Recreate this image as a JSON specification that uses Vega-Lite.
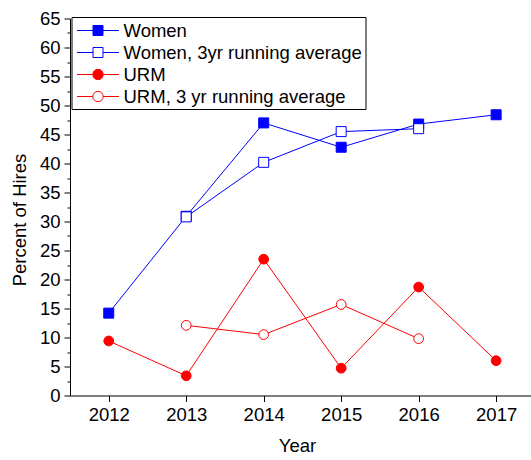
{
  "$schema": "https://vega.github.io/schema/vega-lite/v6.json",
  "width": 461,
  "height": 377,
  "autosize": {"type": "none"},
  "padding": {"left": 70, "top": 18.5, "right": 0, "bottom": 64.5},
  "background": "white",
  "config": {
    "view": {"stroke": null},
    "font": "Liberation Sans",
    "axis": {
      "labelFont": "Liberation Sans",
      "titleFont": "Liberation Sans",
      "labelFontSize": 18.5,
      "titleFontSize": 18.5,
      "titleFontWeight": "normal",
      "labelColor": "black",
      "titleColor": "black",
      "domainColor": "black",
      "tickColor": "black",
      "domainWidth": 1,
      "tickWidth": 1,
      "grid": false
    },
    "legend": {
      "orient": "none",
      "legendX": 1.5,
      "legendY": -1.5,
      "strokeColor": "black",
      "fillColor": "white",
      "padding": 3,
      "symbolSize": 400,
      "symbolStrokeWidth": 1,
      "symbolOffset": 13,
      "labelOffset": 15,
      "rowPadding": 2,
      "symbolOpacity": 1,
      "labelFont": "Liberation Sans",
      "labelFontSize": 18.5,
      "labelColor": "black",
      "labelLimit": 400
    }
  },
  "data": {
    "values": [
      {"year": 2012, "value": 14.2, "series": "Women"},
      {"year": 2013, "value": 30.9, "series": "Women"},
      {"year": 2014, "value": 47.0, "series": "Women"},
      {"year": 2015, "value": 42.8, "series": "Women"},
      {"year": 2016, "value": 46.8, "series": "Women"},
      {"year": 2017, "value": 48.4, "series": "Women"},
      {"year": 2013, "value": 30.8, "series": "Women, 3yr running average"},
      {"year": 2014, "value": 40.2, "series": "Women, 3yr running average"},
      {"year": 2015, "value": 45.5, "series": "Women, 3yr running average"},
      {"year": 2016, "value": 46.0, "series": "Women, 3yr running average"},
      {"year": 2012, "value": 9.4, "series": "URM"},
      {"year": 2013, "value": 3.4, "series": "URM"},
      {"year": 2014, "value": 23.5, "series": "URM"},
      {"year": 2015, "value": 4.7, "series": "URM"},
      {"year": 2016, "value": 18.7, "series": "URM"},
      {"year": 2017, "value": 6.0, "series": "URM"},
      {"year": 2013, "value": 12.1, "series": "URM, 3 yr running average"},
      {"year": 2014, "value": 10.5, "series": "URM, 3 yr running average"},
      {"year": 2015, "value": 15.7, "series": "URM, 3 yr running average"},
      {"year": 2016, "value": 9.8, "series": "URM, 3 yr running average"}
    ]
  },
  "resolve": {"axis": {"y": "independent"}},
  "layer": [
    {
      "mark": {"type": "line", "strokeWidth": 1},
      "encoding": {
        "x": {
          "field": "year", "type": "quantitative",
          "scale": {"domain": [2011.5, 2017.45], "nice": false, "zero": false},
          "axis": {"values": [2012, 2013, 2014, 2015, 2016, 2017], "format": "d", "tickSize": 6, "labelPadding": 4, "title": "Year", "titlePadding": 12, "titleX": 227, "labelFlush": false}
        },
        "y": {
          "field": "value", "type": "quantitative",
          "scale": {"domain": [0, 65], "nice": false},
          "axis": {"orient": "left", "values": [0, 5, 10, 15, 20, 25, 30, 35, 40, 45, 50, 55, 60, 65], "tickSize": 6, "labelPadding": 4, "title": "Percent of Hires", "titlePadding": 10, "titleY": 201, "labelFlush": false}
        },
        "color": {
          "field": "series", "type": "nominal",
          "scale": {
            "domain": ["Women", "Women, 3yr running average", "URM", "URM, 3 yr running average"],
            "range": ["#0000FF", "#0000FF", "#FF0000", "#FF0000"]
          },
          "legend": {
            "title": null,
            "encode": {
              "symbols": {
                "update": {
                  "shape": {"signal": "indexof(datum.value, 'URM') === 0 ? 'M-2.1,0H-0.52M0.52,0H2.1M-0.52,0A0.52,0.52,0,1,1,0.52,0A0.52,0.52,0,1,1,-0.52,0Z' : 'M-2.1,0H-0.5M0.5,0H2.1M-0.5,-0.5H0.5V0.5H-0.5Z'"},
                  "fill": {"signal": "indexof(datum.value, '3') >= 0 ? 'white' : (indexof(datum.value, 'URM') === 0 ? '#FF0000' : '#0000FF')"},
                  "stroke": {"signal": "indexof(datum.value, 'URM') === 0 ? '#FF0000' : '#0000FF'"},
                  "size": {"value": 400},
                  "strokeWidth": {"value": 1},
                  "opacity": {"value": 1}
                }
              }
            }
          }
        }
      }
    },
    {
      "mark": {"type": "point", "filled": false, "strokeWidth": 1, "opacity": 1},
      "encoding": {
        "x": {"field": "year", "type": "quantitative"},
        "y": {
          "field": "value", "type": "quantitative",
          "axis": {"orient": "left", "values": [2.5, 7.5, 12.5, 17.5, 22.5, 27.5, 32.5, 37.5, 42.5, 47.5, 52.5, 57.5, 62.5], "tickSize": 3, "labels": false, "domain": false, "title": null}
        },
        "color": {"field": "series", "type": "nominal", "legend": null},
        "shape": {"condition": {"test": "indexof(datum.series, 'URM') === 0", "value": "circle"}, "value": "square"},
        "fill": {"condition": [{"test": "indexof(datum.series, '3') >= 0", "value": "white"}, {"test": "indexof(datum.series, 'URM') === 0", "value": "#FF0000"}], "value": "#0000FF"},
        "size": {"condition": {"test": "indexof(datum.series, 'URM') === 0", "value": 95}, "value": 100}
      }
    }
  ]
}
